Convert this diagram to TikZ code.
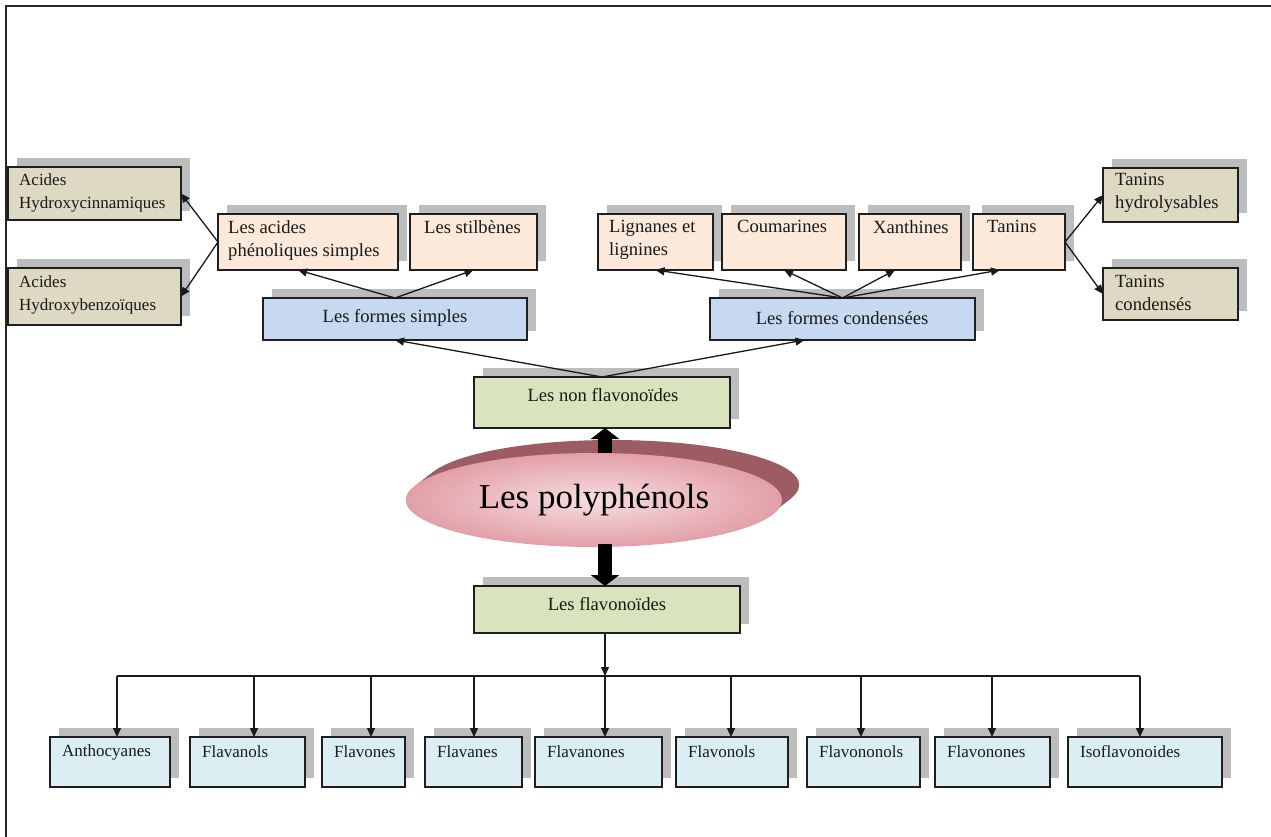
\documentclass[tikz,border=0pt]{standalone}
\usepackage{fontspec}
\setmainfont{Liberation Serif}
\usetikzlibrary{arrows.meta,shapes.geometric,shadows,calc}

\definecolor{tanc}{HTML}{DDD9C3}
\definecolor{peachc}{HTML}{FDE9D9}
\definecolor{bluec}{HTML}{C6D9F1}
\definecolor{greenc}{HTML}{D7E4BD}
\definecolor{lbluec}{HTML}{DAEEF3}
\definecolor{shadowc}{HTML}{BDBDBD}
\definecolor{edgec}{HTML}{1E1E1E}
\definecolor{discside}{HTML}{9C5C62}
\definecolor{discin}{HTML}{F7DDE0}
\definecolor{discout}{HTML}{E2A0A7}

\tikzset{
  boxst/.style={draw=edgec, line width=1.4pt, rectangle, inner sep=0pt, outer sep=0pt,
    general shadow={fill=shadowc, draw=none, shadow xshift=9pt, shadow yshift=9pt}},
  txt/.style={inner sep=0pt, align=left, text=black!90, font=\fontsize{17}{23}\selectfont},
  txtl/.style={txt, font=\fontsize{18.6}{23}\selectfont},
  arr/.style={draw=black!90, line width=1.3pt, -{Triangle[length=9pt,width=8pt]}},
  fat/.style={draw=black, line width=14pt, -{Triangle[length=11pt,width=28pt]}}
}

% box from (x1,y1) to (x2,y2), pixel-like units with y pointing down
\newcommand\cellbox[6]{%
  \node[boxst, fill=#2, anchor=north west,
        minimum width=#5-#3, minimum height=#6-#4] (#1) at (#3,#4) {};}

\begin{document}
\begin{tikzpicture}[x=1pt, y=-1pt]
\useasboundingbox (0,0) rectangle (1271,837);

% page frame
\draw[line width=2pt, black!85] (6,837) -- (6,6) -- (1271,6);

% ---------- non-flavonoid branch ----------
\cellbox{ahc}{tanc}{8}{167}{181}{220}
\node[txt, anchor=north west] (ahct) at (19,174) {Acides\\Hydroxycinnamiques};
\cellbox{ahb}{tanc}{8}{268}{181}{325}
\node[txt, anchor=north west] (ahbt) at (19,276) {Acides\\Hydroxybenzoïques};

\cellbox{aps}{peachc}{218}{214}{398}{270}
\node[txtl, anchor=north west] (apst) at (228,220) {Les acides\\phénoliques simples};
\cellbox{stb}{peachc}{410}{214}{537}{270}
\node[txtl, anchor=north west] (stbt) at (424,220) {Les stilbènes};

\cellbox{lig}{peachc}{598}{214}{713}{270}
\node[txtl, anchor=north west] (ligt) at (609,220) {Lignanes et\\lignines};
\cellbox{cou}{peachc}{722}{214}{846}{270}
\node[txtl, anchor=north west] (cout) at (737,220) {Coumarines};
\cellbox{xan}{peachc}{859}{214}{961}{270}
\node[txtl, anchor=north west] (xant) at (873,220) {Xanthines};
\cellbox{tan}{peachc}{973}{214}{1065}{270}
\node[txtl, anchor=north west] (tant) at (987,220) {Tanins};

\cellbox{thy}{tanc}{1103}{168}{1238}{222}
\node[txtl, anchor=north west] (thyt) at (1115,173) {Tanins\\hydrolysables};
\cellbox{tco}{tanc}{1103}{268}{1238}{320}
\node[txtl, anchor=north west] (tcot) at (1115,275) {Tanins\\condensés};

\cellbox{fs}{bluec}{263}{298}{527}{340}
\node[txtl] (fst) at (395,318) {Les formes simples};
\cellbox{fc}{bluec}{710}{298}{975}{340}
\node[txtl] (fct) at (842,318) {Les formes condensées};

\cellbox{nf}{greenc}{474}{377}{730}{428}
\node[txtl] (nft) at (603,395) {Les non flavonoïdes};

% connectors of the upper tree
\draw[arr] (aps.west) -- (ahc.east);
\draw[arr] (aps.west) -- (ahb.east);
\draw[arr] (fs.north) -- ([xshift=-10pt]aps.south);
\draw[arr] (fs.north) -- (stb.south);
\draw[arr] (fc.north) -- (lig.south);
\draw[arr] (fc.north) -- (cou.south);
\draw[arr] (fc.north) -- ([xshift=-15pt]xan.south);
\draw[arr] (fc.north) -- ([xshift=-19pt]tan.south);
\draw[arr] (tan.east) -- (thy.west);
\draw[arr] (tan.east) -- (tco.west);
\draw[arr] (nf.north) -- (fs.south);
\draw[arr] (nf.north) -- ([xshift=-38pt]fc.south);

% ---------- central disc ----------
\foreach \t in {0,1,...,12}
  \fill[discside] (593+\t*1.6,500-\t*1.25) ellipse [x radius=187, y radius=45];
\coordinate (upstart) at (605,470);
\draw[fat] (upstart) -- (nf.south -| upstart);
\node[ellipse, minimum width=376pt, minimum height=94pt, inner sep=0pt,
      inner color=discin, outer color=discout,
      font=\fontsize{35}{40}\selectfont] (poly) at (594,500) {Les polyphénols};

\cellbox{fl}{greenc}{474}{586}{740}{633}
\node[txtl] (flt) at (607,604) {Les flavonoïdes};
\coordinate (downstart) at (605,544);
\draw[fat] (downstart) -- (fl.north -| downstart);

% ---------- flavonoid classes ----------
\coordinate (bus) at (605,676);
\draw[arr] (fl.south -| bus) -- (bus);

\foreach \nm/\xa/\xb/\xd/\lab in {
  c1/50/170/117/Anthocyanes,
  c2/190/305/254/Flavanols,
  c3/322/405/371/Flavones,
  c4/425/522/474/Flavanes,
  c5/535/662/605/Flavanones,
  c6/676/788/731/Flavonols,
  c7/807/920/861/Flavononols,
  c8/935/1050/992/Flavonones,
  c9/1068/1222/1140/Isoflavonoides}{
  \cellbox{\nm}{lbluec}{\xa}{737}{\xb}{787}
  \node[txt, anchor=west] (\nm t) at (\xa+12,752) {\lab};
  \coordinate (\nm d) at (\xd,676);
  \draw[arr] (\nm d) -- (\nm d |- \nm.north);
}
\draw[line width=1.3pt, black!90] (c1d) -- (c9d);

\end{tikzpicture}
\end{document}
